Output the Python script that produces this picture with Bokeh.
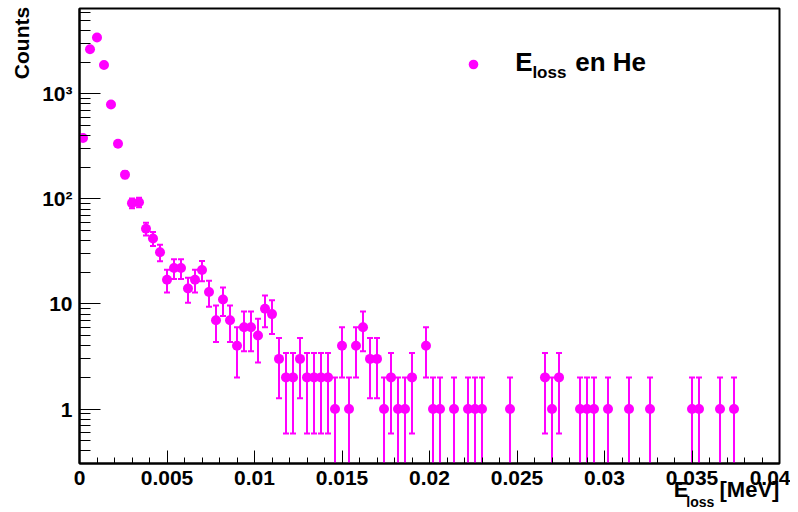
import math
from bokeh.plotting import figure
from bokeh.models import (Range1d, FixedTicker, CustomJSTickFormatter, Label,
                          Legend, LegendItem, LinearAxis, LogAxis)
from bokeh.embed import file_html
from bokeh.resources import INLINE

# ---------------- data (histogram of energy loss) ----------------
x_min = 0.0
x_max = 0.04
bin_width = 0.0004
counts = [380, 2650, 3430, 1880, 790, 335, 170, 91, 93, 52,
          42, 31, 17, 22, 22, 14, 17, 21, 13, 7,
          11, 7, 4, 6, 6, 5, 9, 8, 3, 2,
          2, 3, 2, 2, 2, 2, 1, 4, 1, 4,
          6, 3, 3, 1, 2, 1, 1, 2, 0, 4,
          1, 1, 0, 1, 0, 1, 1, 1, 0, 0,
          0, 1, 0, 0, 0, 0, 2, 1, 2, 0,
          0, 1, 1, 1, 0, 1, 0, 0, 1, 0,
          0, 1, 0, 0, 0, 0, 0, 1, 1, 0,
          0, 1, 0, 1, 0, 0, 0, 0, 0, 0]

x_tick_values = [0, 0.005, 0.01, 0.015, 0.02, 0.025, 0.03, 0.035, 0.04]
x_tick_labels = ["0", "0.005", "0.01", "0.015", "0.02", "0.025", "0.03", "0.035", "0.04"]
y_tick_values = [1, 10, 100, 1000]
y_tick_labels = ["1", "10", "10\u00b2", "10\u00b3"]

y_start, y_end = 0.303, 6480

# ---------------- layout constants (pixels) ----------------
BL, BT, FW, FH = 79, 8, 700, 455
MAG = "#ff00ff"
FONT = "Liberation Sans"


def px_to_x(px):
    return x_min + (px - BL) / FW * (x_max - x_min)


def py_to_y(py):
    l0, l1 = math.log10(y_start), math.log10(y_end)
    return 10 ** (l0 + (BT + FH - py) / FH * (l1 - l0))


# ---------------- derived ----------------
centers = [x_min + bin_width * (i + 0.5) for i in range(len(counts))]
xs = [centers[i] for i, c in enumerate(counts) if c > 0]
ys = [c for c in counts if c > 0]
errs = [math.sqrt(c) for c in ys]
lo = [c - e for c, e in zip(ys, errs)]
hi = [c + e for c, e in zip(ys, errs)]
seg_lo = [l if l > y_start else y_start for l in lo]
cap_lo_x = [x for x, l in zip(xs, lo) if l > y_start]
cap_lo_y = [l for l in lo if l > y_start]

p = figure(frame_width=FW, frame_height=FH, y_axis_type="log",
           x_range=Range1d(x_min, x_max), y_range=Range1d(y_start, y_end),
           output_backend="svg", toolbar_location=None,
           min_border_left=BL, min_border_right=11, min_border_top=BT,
           min_border_bottom=49)
p.background_fill_color = "white"
p.border_fill_color = "white"
p.outline_line_color = "black"
p.outline_line_width = 2
p.xgrid.visible = False
p.ygrid.visible = False

# error bars
p.segment(x0=xs, y0=seg_lo, x1=xs, y1=hi, line_color=MAG, line_width=2)
p.scatter(x=xs, y=hi, marker="dash", size=6, line_color=MAG, line_width=2)
p.scatter(x=cap_lo_x, y=cap_lo_y, marker="dash", size=6, line_color=MAG, line_width=2)
# markers
r = p.scatter(x=xs, y=ys, marker="circle", size=10, fill_color=MAG, line_color=None)


def style_labels(ax, size):
    ax.major_label_text_font = FONT
    ax.major_label_text_font_style = "bold"
    ax.major_label_text_font_size = size
    ax.major_label_text_color = "black"


def text_axis(ax):
    ax.axis_line_color = None
    ax.major_tick_in = 0
    ax.major_tick_out = 0
    ax.minor_tick_in = 0
    ax.minor_tick_out = 0


# main axes
xa = p.xaxis[0]
xa.ticker = FixedTicker(ticks=x_tick_values,
                        minor_ticks=[i * 0.001 for i in range(41)])
xa.formatter = CustomJSTickFormatter(
    args=dict(vals=x_tick_values, labels=x_tick_labels),
    code="for (let i = 0; i < vals.length; i++) { if (Math.abs(vals[i] - tick) < 1e-9) return labels[i]; } return '';")
xa.major_tick_in = 13
xa.major_tick_out = 0
xa.minor_tick_in = 6
xa.minor_tick_out = 0
xa.axis_line_width = 2
xa.major_label_standoff = 7
style_labels(xa, "21px")

ya = p.yaxis[0]
ya.ticker = FixedTicker(ticks=y_tick_values,
                        minor_ticks=[k * 10 ** d for d in range(-1, 4) for k in range(2, 10)])
ya.formatter = CustomJSTickFormatter(
    args=dict(vals=y_tick_values, labels=y_tick_labels),
    code="const i = vals.indexOf(Math.round(tick)); return i >= 0 ? labels[i] : '';")
ya.major_tick_in = 21
ya.major_tick_out = 0
ya.minor_tick_in = 11
ya.minor_tick_out = 0
ya.axis_line_width = 2
ya.major_label_standoff = 7
style_labels(ya, "21px")

# axis titles, drawn as tick labels of text-only axes (kept outside the frame)
title_x_vals = [px_to_x(680.7), px_to_x(749.0)]
title_x_text = ["E", "[MeV]"]
ax2 = LinearAxis(ticker=FixedTicker(ticks=title_x_vals),
                 formatter=CustomJSTickFormatter(
                     args=dict(vals=title_x_vals, labels=title_x_text),
                     code="for (let i = 0; i < vals.length; i++) { if (Math.abs(vals[i] - tick) < 1e-9) return labels[i]; } return '';"))
text_axis(ax2)
ax2.major_label_standoff = -11
style_labels(ax2, "22px")
p.add_layout(ax2, "below")

sub_x_vals = [px_to_x(699.8)]
ax3 = LinearAxis(ticker=FixedTicker(ticks=sub_x_vals),
                 formatter=CustomJSTickFormatter(code="return 'loss';"))
text_axis(ax3)
ax3.major_label_standoff = -11
style_labels(ax3, "14px")
p.add_layout(ax3, "below")

counts_y_vals = [py_to_y(42.5)]
ay2 = LogAxis(ticker=FixedTicker(ticks=counts_y_vals),
              formatter=CustomJSTickFormatter(code="return 'Counts';"))
text_axis(ay2)
ay2.major_label_orientation = "vertical"
ay2.major_label_standoff = 7
style_labels(ay2, "21px")
p.add_layout(ay2, "left")


# legend
def lab(x, y, text, size):
    p.add_layout(Label(x=x, y=y, x_units="screen", y_units="screen", text=text,
                       text_font=FONT, text_font_style="bold", text_font_size=size,
                       text_align="left", text_baseline="middle", text_color="black"))


legend = Legend(items=[LegendItem(label=" ", renderers=[r])], location=(381.7, 386.7),
                padding=0, margin=0, spacing=0, border_line_color=None,
                background_fill_alpha=0, label_text_font_size="1px",
                label_width=0, label_height=0, label_standoff=0,
                glyph_width=24, glyph_height=24)
p.add_layout(legend)
lab(435.8, 401.8, "E", "26px")
lab(452.9, 391.2, "loss", "17px")
lab(495.7, 401.8, "en He", "26px")

open("out.html", "w").write(file_html(p, INLINE))
